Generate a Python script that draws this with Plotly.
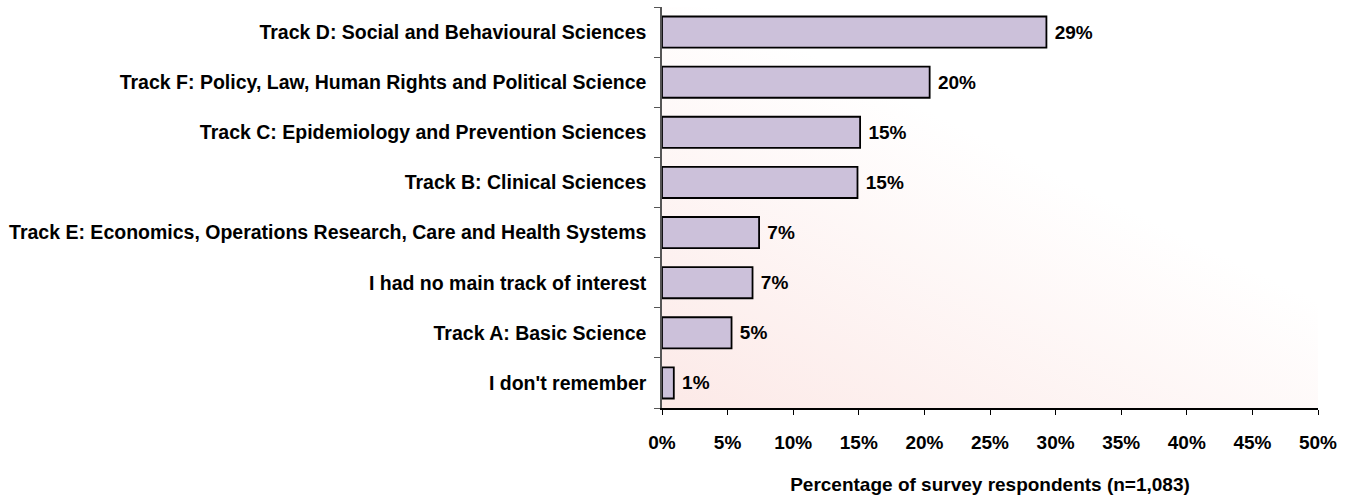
import base64
import plotly.graph_objects as go

categories = [
    "Track D: Social and Behavioural Sciences",
    "Track F: Policy, Law, Human Rights and Political Science",
    "Track C: Epidemiology and Prevention Sciences",
    "Track B: Clinical Sciences",
    "Track E: Economics, Operations Research, Care and Health Systems",
    "I had no main track of interest",
    "Track A: Basic Science",
    "I don't remember",
]
values = [29.3, 20.4, 15.1, 14.9, 7.4, 6.9, 5.3, 0.9]
x_ticks = [0, 5, 10, 15, 20, 25, 30, 35, 40, 45, 50]
x_title = "Percentage of survey respondents (n=1,083)"

FONT = "Liberation Sans, Arial, sans-serif"

svg = (
    '<svg xmlns="http://www.w3.org/2000/svg" width="100" height="100" preserveAspectRatio="none">'
    '<defs><linearGradient id="g" x1="0" y1="1" x2="0.8" y2="0">'
    '<stop offset="0" stop-color="#FCE9E7"/>'
    '<stop offset="0.65" stop-color="#FFFFFF"/>'
    '<stop offset="1" stop-color="#FFFFFF"/>'
    '</linearGradient></defs>'
    '<rect width="100" height="100" fill="url(#g)"/></svg>'
)
bg_uri = "data:image/svg+xml;base64," + base64.b64encode(svg.encode()).decode()

fig = go.Figure(
    go.Bar(
        x=values,
        y=categories,
        orientation="h",
        marker=dict(color="#CCC1DA", line=dict(color="#000000", width=1.8)),
        width=0.62,
        texttemplate="\u00a0%{x:.0f}%",
        textposition="outside",
        cliponaxis=False,
        textfont=dict(family=FONT, size=19, color="#000000", weight="bold"),
    )
)

fig.update_layout(
    width=1356,
    height=495,
    margin=dict(l=662, r=38, t=7, b=87, autoexpand=False),
    paper_bgcolor="#FFFFFF",
    plot_bgcolor="rgba(0,0,0,0)",
    showlegend=False,
    font=dict(family=FONT, size=19, color="#000000", weight="bold"),
    images=[
        dict(
            source=bg_uri,
            xref="paper",
            yref="paper",
            x=0,
            y=1,
            sizex=1,
            sizey=1,
            sizing="stretch",
            xanchor="left",
            yanchor="top",
            layer="below",
        )
    ],
)

fig.update_xaxes(
    range=[0, 50],
    tickvals=x_ticks,
    ticktext=[f"{t}%" for t in x_ticks],
    ticks="outside",
    ticklen=5,
    tickcolor="#000000",
    showline=True,
    linecolor="#000000",
    linewidth=2,
    showgrid=False,
    zeroline=False,
    ticklabelstandoff=11,
    tickfont=dict(family=FONT, size=19, weight="bold"),
    title=dict(text=x_title, standoff=38, font=dict(family=FONT, size=19, weight="bold")),
)

fig.update_yaxes(
    categoryorder="array",
    categoryarray=categories[::-1],
    autorange=False,
    range=[-0.5, len(categories) - 0.5],
    tickson="boundaries",
    ticks="outside",
    ticklen=6,
    tickcolor="#555555",
    showline=True,
    linecolor="#555555",
    linewidth=1.5,
    showgrid=False,
    zeroline=False,
    ticklabelstandoff=10,
    tickfont=dict(family=FONT, size=19.5, weight="bold"),
)

fig.write_html(
    "out.html",
    config={"displayModeBar": False},
    post_script="document.body.style.margin='0px';",
)
